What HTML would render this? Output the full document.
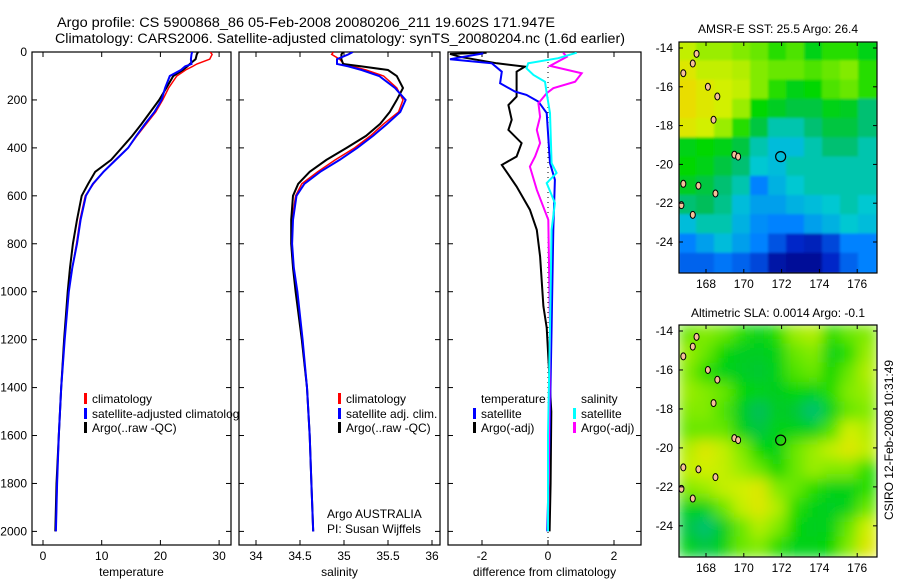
<!DOCTYPE html>
<html><head><meta charset="utf-8"><title>Argo profile</title>
<style>
html,body{margin:0;padding:0;background:#fff;}
svg{display:block;font-family:"Liberation Sans",sans-serif;font-size:12px;}
</style></head>
<body>
<svg id="fig" width="900" height="580" viewBox="0 0 900 580">
<defs>
<clipPath id="clipP1"><rect x="32" y="52" width="207" height="494"/></clipPath>
<clipPath id="clipP2"><rect x="239" y="52" width="201" height="494"/></clipPath>
<clipPath id="clipP3"><rect x="448" y="52" width="193" height="494"/></clipPath>
<clipPath id="clipM1"><rect x="679" y="42" width="198" height="231"/></clipPath>
<clipPath id="clipM2"><rect x="679" y="325" width="198" height="232"/></clipPath>
<filter id="blurS" x="-10%" y="-10%" width="120%" height="120%"><feGaussianBlur stdDeviation="1.2"/></filter>
<filter id="blurL" x="-10%" y="-10%" width="120%" height="120%"><feGaussianBlur stdDeviation="7"/></filter>
</defs>
<text x="57" y="27" font-size="13.5" textLength="498" lengthAdjust="spacingAndGlyphs">Argo profile: CS 5900868_86 05-Feb-2008 20080206_211 19.602S 171.947E</text>
<text x="55" y="43" font-size="13.5" textLength="570" lengthAdjust="spacingAndGlyphs">Climatology: CARS2006. Satellite-adjusted climatology: synTS_20080204.nc (1.6d earlier)</text>
<text x="778" y="33" text-anchor="middle">AMSR-E SST: 25.5 Argo: 26.4</text>
<text x="778" y="317" text-anchor="middle">Altimetric SLA: 0.0014 Argo: -0.1</text>
<text transform="translate(893,440) rotate(-90)" text-anchor="middle">CSIRO 12-Feb-2008 10:31:49</text>
<g id="g"></g>
</svg>
<script>
// ---- profile data ----
const depths = [0,10,30,50,60,75,100,150,200,250,300,350,400,450,500,550,600,700,800,900,1000,1200,1400,1600,1800,2000];
const tempClim = [28.5,28.8,28.4,26.2,25.5,24.3,22.8,21.4,20.4,19.2,17.6,16,14.5,12.3,10.3,8.6,7.2,6.3,5.7,5,4.3,3.6,3.1,2.7,2.4,2.2];
const tempSat = [25.4,25.3,25.2,25.3,24.2,23.5,21.6,20.8,20.2,19,17.4,15.9,14.5,12.4,10.3,8.5,7.3,6.4,5.8,5,4.4,3.7,3.1,2.7,2.4,2.2];
const tempArgo = [26.4,26.2,26,25,24.6,23.8,22.2,21,19.8,18.3,16.8,15.2,13.4,11.6,8.9,7.7,6.6,5.8,5.1,4.6,4.2,3.6,3.1,2.7,2.3,2.1];
const salClim = [34.88,34.86,34.95,35.0,35.1,35.25,35.45,35.6,35.67,35.62,35.45,35.3,35.12,34.9,34.7,34.52,34.45,34.41,34.4,34.42,34.46,34.52,34.58,34.61,34.63,34.65];
const salSat = [35.1,35.05,34.92,34.92,35.05,35.2,35.4,35.58,35.7,35.64,35.49,35.33,35.15,34.95,34.73,34.55,34.46,34.42,34.41,34.43,34.47,34.53,34.58,34.61,34.63,34.65];
const salArgo = [34.99,34.97,34.97,34.99,35.2,35.5,35.6,35.67,35.6,35.52,35.41,35.25,35.03,34.8,34.61,34.48,34.42,34.4,34.4,34.42,34.45,34.52,34.58,34.61,34.63,34.65];
// difference panel
const dTdepth = [3,8,20,47,61,82,186,221,283,325,380,436,471,561,658,742,853,1061,1150,1500,1800,2000];
const dTargo = [-1.86,-2.97,-2.67,-1.55,-0.7,-0.95,-0.95,-1.2,-1.1,-1.2,-0.8,-0.95,-1.4,-0.95,-0.55,-0.34,-0.24,-0.14,-0.04,0.1,0.08,0.05];
const dTsatDepth = [6,30,47,82,130,165,179,207,255,464,533,742,1150,1600,2000];
const dTsat = [-1.96,-2.97,-1.7,-1.4,-1.45,-1.0,-0.65,-0.29,-0.04,0.06,0.21,0.16,0.11,0.05,-0.02];
const dSsatDepth = [3,26,47,68,96,124,172,255,464,505,547,630,742,1150,1600,2000];
const dSsat = [0.87,0.31,-0.6,-0.65,-0.44,-0.09,-0.04,0.06,0.11,0.26,-0.04,0.21,0.11,0.06,0.0,0.0];
const dSargoDepth = [3,20,58,89,124,151,172,214,270,325,380,436,478,575,700,1150,1600,2000];
const dSargo = [0.46,0.57,0.06,1.02,0.82,0.16,-0.04,-0.29,-0.24,-0.34,-0.24,-0.39,-0.55,-0.34,0.01,0.06,0.03,0.0];
const depthTicks = [0,200,400,600,800,1000,1200,1400,1600,1800,2000];
const tempTicks = [0,10,20,30];
const salTicks = [34,34.5,35,35.5,36];
const salTickLabels = ["34","34.5","35","35.5","36"];
const diffTicks = [-2,0,2];
// ---- map data ----
const sstGrid = [
[.8,.75,.75,.72,.7,.65,.68,.6,.65,.65,.6],
[.85,.8,.8,.78,.72,.7,.7,.68,.7,.72,.65],
[.88,.85,.82,.8,.72,.65,.6,.62,.68,.7,.65],
[.88,.85,.82,.75,.62,.58,.55,.55,.6,.58,.5],
[.85,.82,.75,.65,.55,.45,.45,.5,.55,.55,.5],
[.6,.62,.6,.55,.45,.4,.4,.45,.5,.5,.45],
[.62,.6,.55,.5,.42,.4,.45,.45,.45,.45,.45],
[.58,.55,.5,.45,.3,.38,.42,.45,.45,.45,.45],
[.5,.52,.48,.4,.35,.35,.38,.4,.42,.45,.42],
[.4,.45,.45,.38,.32,.3,.3,.35,.38,.42,.4],
[.3,.35,.4,.35,.3,.22,.15,.12,.2,.3,.3],
[.25,.25,.28,.25,.2,.08,.05,.05,.15,.25,.3]];
const slaGrid = [
[.7,.72,.7,.65,.6,.65,.75,.78,.65,.7,.72],
[.75,.7,.62,.58,.58,.6,.7,.72,.6,.65,.75],
[.72,.65,.6,.58,.56,.6,.68,.7,.62,.7,.78],
[.75,.72,.7,.62,.6,.58,.62,.6,.65,.72,.75],
[.72,.72,.68,.58,.52,.58,.56,.5,.6,.7,.72],
[.7,.7,.7,.6,.55,.6,.6,.6,.68,.82,.78],
[.78,.85,.8,.72,.62,.6,.7,.75,.8,.85,.8],
[.8,.82,.8,.75,.7,.62,.7,.75,.72,.72,.65],
[.72,.75,.8,.82,.85,.72,.7,.65,.6,.6,.65],
[.6,.6,.7,.8,.85,.78,.65,.6,.58,.6,.7],
[.55,.5,.58,.7,.78,.72,.62,.58,.6,.7,.82],
[.6,.55,.6,.7,.72,.65,.6,.6,.62,.72,.85]];
const lonTicks = [168,170,172,174,176];
const latTicks = [-14,-16,-18,-20,-22,-24];
const islandLon = [166.8,167.5,167.3,168.1,168.6,168.4,169.5,169.7,166.8,167.6,168.5,166.7,167.3];
const islandLat = [-15.3,-14.3,-14.8,-16.0,-16.5,-17.7,-19.5,-19.6,-21.0,-21.1,-21.5,-22.1,-22.6];
const floatLon = [171.95];
const floatLat = [-19.6];

const NS="http://www.w3.org/2000/svg";
const G=document.getElementById('g');
function mk(tag,attrs,parent){const e=document.createElementNS(NS,tag);for(const k in attrs)e.setAttribute(k,attrs[k]);(parent||G).appendChild(e);return e;}
function yD(d){return 52+d*0.2397;}
const xT=t=>43+t*5.87, xS=s=>256+(s-34)*88, xDf=v=>548+v*33;

function panel(name,x0,x1,clip,xs,xticks,xlabels,xtitle,leftLabels){
  const g=mk('g',{});
  
  
  mk('rect',{x:x0,y:52,width:x1-x0,height:493,fill:'#fff',stroke:'#000','stroke-width':1.2},g);
  depthTicks.forEach(d=>{
    const y=yD(d);
    mk('line',{x1:x0,x2:x0+5,y1:y,y2:y,stroke:'#000'},g);
    mk('line',{x1:x1-5,x2:x1,y1:y,y2:y,stroke:'#000'},g);
    if(leftLabels){const t=mk('text',{x:27,y:y+4,'text-anchor':'end'},g);t.textContent=d;
      
      }
  });
  xticks.forEach((v,i)=>{
    const x=xs(v);
    mk('line',{x1:x,x2:x,y1:545,y2:540,stroke:'#000'},g);
    mk('line',{x1:x,x2:x,y1:52,y2:57,stroke:'#000'},g);
    const t=mk('text',{x:x,y:560,'text-anchor':'middle'},g);t.textContent=xlabels[i];
    
    
  });
  const tt=mk('text',{x:(x0+x1)/2,y:576,'text-anchor':'middle'},g);tt.textContent=xtitle;
  
  
  return g;
}
function line(g,xs,xv,dv,color,w,name,clip){
  const p=xv.map((v,i)=>xs(v).toFixed(1)+','+yD(dv[i]).toFixed(1)).join(' ');
  const e=mk('polyline',{points:p,fill:'none',stroke:color,'stroke-width':w,'clip-path':'url(#'+clip+')'},g);
  
  
}
function legend(g,x,y,color,label,name){
  if(color) mk('rect',{x:x,y:y-10,width:3,height:11,fill:color},g);
  const t=mk('text',{x:x+8,y:y},g);t.textContent=label;
  
  
}
// Panel 1
const p1=panel('temperature-panel',32,231,'clipP1',xT,tempTicks,tempTicks.map(String),'temperature',true);
line(p1,xT,tempClim,depths,'#f00',1.5,'temp-climatology-line','clipP1');
line(p1,xT,tempArgo,depths,'#000',2,'temp-argo-line','clipP1');
line(p1,xT,tempSat,depths,'#00f',2,'temp-satellite-line','clipP1');
const lg1=mk('g',{'clip-path':'url(#clipP1)'},p1);
legend(lg1,84,403,'#f00','climatology','legend-climatology');
legend(lg1,84,418,'#00f','satellite-adjusted climatology','legend-satellite-adjusted');
legend(lg1,84,432,'#000','Argo(..raw -QC)','legend-argo');
// Panel 2
const p2=panel('salinity-panel',239,440,'clipP2',xS,salTicks,salTickLabels,'salinity',false);
line(p2,xS,salClim,depths,'#f00',1.5,'sal-climatology-line','clipP2');
line(p2,xS,salArgo,depths,'#000',2,'sal-argo-line','clipP2');
line(p2,xS,salSat,depths,'#00f',2,'sal-satellite-line','clipP2');
legend(p2,338,403,'#f00','climatology','legend-climatology-2');
legend(p2,338,418,'#00f','satellite adj. clim.','legend-satellite-adj-2');
legend(p2,338,432,'#000','Argo(..raw -QC)','legend-argo-2');
legend(p2,319,518,null,'Argo AUSTRALIA','argo-australia-label');
legend(p2,319,533,null,'PI: Susan Wijffels','pi-label');
// Panel 3
const p3=panel('difference-panel',448,641,'clipP3',xDf,diffTicks,diffTicks.map(String),'difference from climatology',false);
mk('line',{x1:548,x2:548,y1:52,y2:545,stroke:'#000','stroke-dasharray':'1,4'},p3);
line(p3,xDf,dTargo,dTdepth,'#000',2,'tdiff-argo-line','clipP3');
line(p3,xDf,dTsat,dTsatDepth,'#00f',2,'tdiff-satellite-line','clipP3');
line(p3,xDf,dSargo,dSargoDepth,'#f0f',2,'sdiff-argo-line','clipP3');
line(p3,xDf,dSsat,dSsatDepth,'#0ff',2,'sdiff-satellite-line','clipP3');
legend(p3,473,403,null,'temperature','legend-temperature-header');
legend(p3,473,418,'#00f','satellite','legend-t-satellite');
legend(p3,473,432,'#000','Argo(-adj)','legend-t-argo');
legend(p3,573,403,null,'salinity','legend-salinity-header');
legend(p3,573,418,'#0ff','satellite','legend-s-satellite');
legend(p3,573,432,'#f0f','Argo(-adj)','legend-s-argo');

// ---- maps ----
const stops=[[0,[0,0,128]],[0.15,[0,40,200]],[0.3,[0,130,255]],[0.42,[0,200,210]],[0.52,[0,190,90]],[0.62,[0,215,0]],[0.72,[130,235,0]],[0.82,[210,240,0]],[0.9,[240,215,0]],[1,[240,120,0]]];
function cmap(v){for(let i=1;i<stops.length;i++){if(v<=stops[i][0]){const a=stops[i-1],b=stops[i],f=(v-a[0])/(b[0]-a[0]);return 'rgb('+a[1].map((c,k)=>Math.round(c+(b[1][k]-c)*f)).join(',')+')';}}return 'rgb(240,120,0)';}
function map(name,top,bot,grid,filt,clip){
  const x0=679,x1=877;
  const lonX=l=>706+(l-168)*18.9;
  const lat0=top+6;
  const latY=l=>lat0+(-14-l)*19.4*((bot-top)/231);
  const g=mk('g',{});
  
  
  const hg=mk('g',{'clip-path':'url(#'+clip+')'},g);
  const hi=mk('g',{filter:'url(#'+filt+')'},hg);
  const rows=grid.length,cols=grid[0].length,cw=(x1-x0)/cols,ch=(bot-top)/rows;
  grid.forEach((row,r)=>row.forEach((v,c)=>{
    const cell=mk('rect',{x:x0+c*cw-1,y:top+r*ch-1,width:cw+2,height:ch+2,fill:cmap(v)},hi);
    
    
  }));
  islandLon.forEach((lo,i)=>{
    const isl=mk('ellipse',{cx:lonX(lo),cy:latY(islandLat[i]),rx:2.5,ry:3.5,fill:'#f7c09a',stroke:'#000','stroke-width':1},hg);
    
    
  });
  floatLon.forEach((lo,i)=>{
    const c=mk('circle',{cx:lonX(lo),cy:latY(floatLat[i]),r:5,fill:'none',stroke:'#000','stroke-width':1.2},hg);
    
    
  });
  mk('rect',{x:x0,y:top,width:x1-x0,height:bot-top,fill:'none',stroke:'#000','stroke-width':1.2},g);
  lonTicks.forEach(l=>{const x=lonX(l);
    mk('line',{x1:x,x2:x,y1:bot,y2:bot-4,stroke:'#000'},g);
    mk('line',{x1:x,x2:x,y1:top,y2:top+4,stroke:'#000'},g);
    const t=mk('text',{x:x,y:bot+15,'text-anchor':'middle'},g);t.textContent=l;
    
    });
  latTicks.forEach(l=>{const y=latY(l);
    mk('line',{x1:x0,x2:x0+4,y1:y,y2:y,stroke:'#000'},g);
    mk('line',{x1:x1-4,x2:x1,y1:y,y2:y,stroke:'#000'},g);
    const t=mk('text',{x:673,y:y+4,'text-anchor':'end'},g);t.textContent=l;
    
    });
}
map('sst-map',42,273,sstGrid,'blurS','clipM1');
map('sla-map',325,557,slaGrid,'blurL','clipM2');
</script>
</body></html>
